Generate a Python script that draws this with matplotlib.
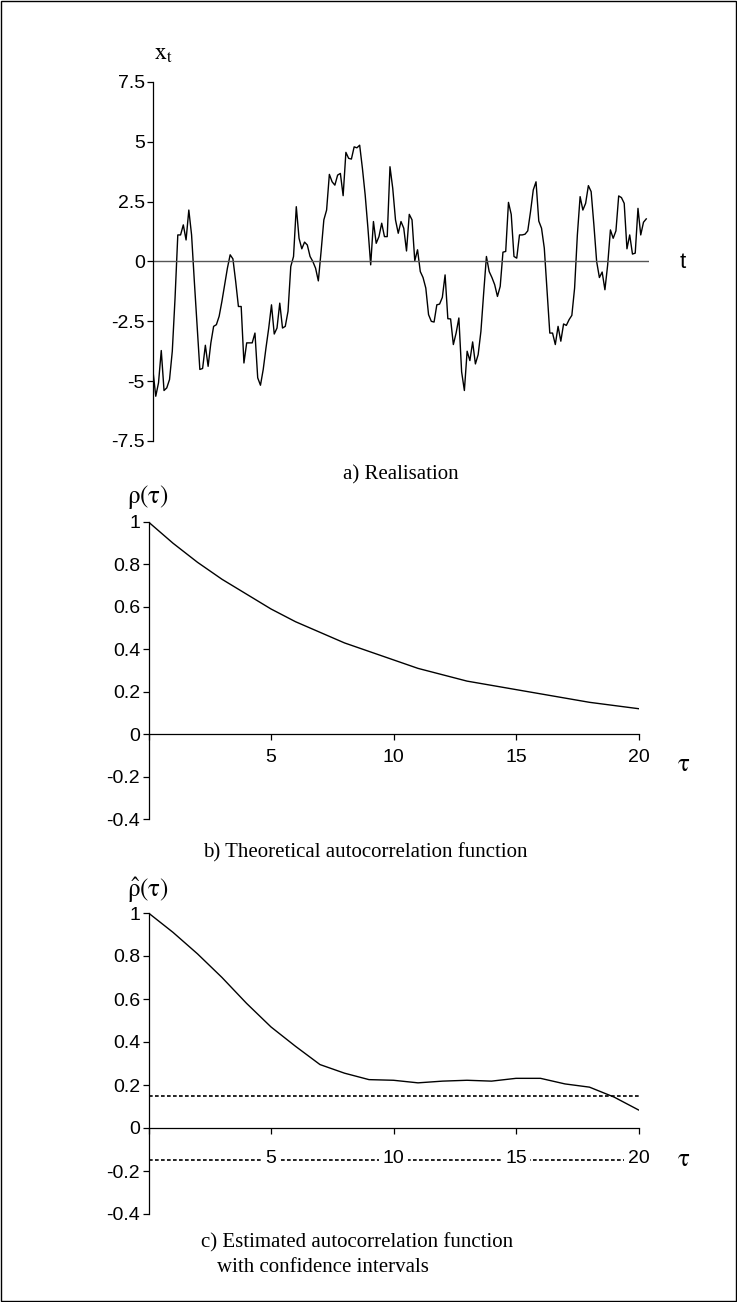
import matplotlib.pyplot as plt
import numpy as np

# a) realisation
serie = [
    -4.58, -5.63, -5.07, -3.72, -5.39, -5.28, -4.93, -3.75, -1.53, 1.11,
    1.11, 1.53, 0.90, 2.15, 1.11, -0.83, -2.64, -4.51, -4.47, -3.50,
    -4.38, -3.40, -2.71, -2.64, -2.29, -1.67, -0.97, -0.28, 0.28, 0.11,
    -0.83, -1.88, -1.88, -4.24, -3.40, -3.40,
    -3.40, -2.99, -4.86, -5.17, -4.51, -3.61, -2.78, -1.81, -3.03, -2.78,
    -1.74, -2.78, -2.71, -2.08, -0.21, 0.21, 2.29, 0.97, 0.53, 0.81,
    0.69, 0.21, 0.00, -0.28, -0.81, 0.42, 1.74, 2.15, 3.64, 3.33,
    3.19, 3.61, 3.68, 2.75, 4.56,
    4.31, 4.28, 4.79, 4.75, 4.86, 3.89, 2.78, 1.39, -0.14, 1.67,
    0.76, 1.04, 1.60, 1.04, 1.04, 3.96, 3.06, 1.74, 1.18, 1.67,
    1.39, 0.44, 1.97, 1.74, 0.03, 0.49, -0.42, -0.67, -1.11, -2.22,
    -2.50, -2.53, -1.81, -1.78, -1.50, -0.56,
    -2.39, -2.40, -3.47, -2.99, -2.36, -4.61, -5.39, -3.75, -4.14, -3.36,
    -4.28, -3.89, -2.92, -1.32, 0.21, -0.42, -0.67, -0.97, -1.46, -1.04,
    0.39, 0.42, 2.47, 1.97, 0.21, 0.14, 1.11, 1.11, 1.14, 1.28,
    2.08, 2.99, 3.33, 1.69, 1.39,
    0.56, -1.25, -2.99, -2.99, -3.47, -2.71, -3.33, -2.61, -2.67, -2.43,
    -2.25, -1.11, 1.11, 2.71, 2.15, 2.43, 3.17, 2.92, 1.53, 0.00,
    -0.67, -0.44, -1.18, -0.14, 1.32, 0.97, 1.28, 2.74, 2.67, 2.43,
    0.53, 1.11, 0.31, 0.35, 2.22, 1.11, 1.64, 1.78,
]
serie_yticks = [7.5, 5, 2.5, 0, -2.5, -5, -7.5]
serie_ylabels = ["7.5", "5", "2.5", "0", "-2.5", "-5", "-7.5"]

# b) and c) autocorrelation functions
lags = list(range(21))
acf_teorica = [1.0, 0.90, 0.81, 0.73, 0.66, 0.59, 0.53, 0.48, 0.43, 0.39, 0.35,
               0.31, 0.28, 0.25, 0.23, 0.21, 0.19, 0.17, 0.15, 0.135, 0.12]
acf_estimada = [1.0, 0.91, 0.81, 0.70, 0.58, 0.47, 0.38, 0.295, 0.255, 0.225, 0.222,
                0.21, 0.218, 0.222, 0.218, 0.231, 0.231, 0.205, 0.19, 0.144, 0.084]
limite_conf = 0.15

acf_yticks = [1, 0.8, 0.6, 0.4, 0.2, 0, -0.2, -0.4]
acf_ylabels = ["1", "0.8", "0.6", "0.4", "0.2", "0", "-0.2", "-0.4"]
lag_ticks = [0, 5, 10, 15, 20]
lag_labels = ["", "5", "10", "15", "20"]

W, H = 737, 1302
SANS = "Liberation Sans"
SERIF = ["Liberation Serif", "DejaVu Serif"]
plt.rcParams["mathtext.fontset"] = "stix"


def px(x, y):
    return x / W, 1 - y / H


def caja(left, top, right, bottom):
    return [left / W, 1 - bottom / H, (right - left) / W, (bottom - top) / H]


def ejes_acf(ax, valores, pad):
    ax.plot(lags, valores, color="black", lw=1.0, zorder=2)
    ax.set_xlim(0, 20)
    ax.set_ylim(-0.4, 1)
    ax.spines["top"].set_visible(False)
    ax.spines["right"].set_visible(False)
    ax.spines["bottom"].set_position(("data", 0))
    ax.spines["left"].set_linewidth(0.9)
    ax.spines["bottom"].set_linewidth(0.9)
    ax.set_xticks(lag_ticks)
    ax.set_xticklabels(lag_labels, fontfamily=SANS, fontsize=14)
    ax.set_yticks(acf_yticks)
    ax.set_yticklabels(acf_ylabels, fontfamily=SANS, fontsize=14)
    ax.tick_params(axis="x", direction="out", length=4, width=0.9, pad=pad)
    ax.tick_params(axis="y", direction="out", length=4, width=0.9, pad=2)
    ax.patch.set_alpha(0)


fig = plt.figure(figsize=(W / 100, H / 100), dpi=100)

# a) Realisation
ax1 = fig.add_axes(caja(153, 82, 649, 441))
t = np.arange(len(serie))
ax1.plot(t, serie, color="black", lw=1.0)
ax1.axhline(0, color="#555555", lw=1.0)
ax1.set_xlim(0, 180)
ax1.set_ylim(-7.5, 7.5)
for lado in ["top", "right", "bottom"]:
    ax1.spines[lado].set_visible(False)
ax1.spines["left"].set_linewidth(0.9)
ax1.set_xticks([])
ax1.set_yticks(serie_yticks)
ax1.set_yticklabels(serie_ylabels, fontfamily=SANS, fontsize=14)
ax1.tick_params(axis="y", direction="out", length=4, width=0.9, pad=2)
ax1.patch.set_alpha(0)

fig.text(*px(163, 53), r"$\mathrm{x_t}$", fontsize=17, ha="center", va="center")
fig.text(*px(683, 263), "t", fontfamily=SANS, fontsize=16, ha="center", va="center")
fig.text(*px(401, 475), "a) Realisation", fontfamily=SERIF, fontsize=15, ha="center", va="center")

# b) Theoretical autocorrelation function
ax2 = fig.add_axes(caja(148.5, 522, 638.5, 819))
ejes_acf(ax2, acf_teorica, 7)
fig.text(*px(127, 497), r"$\mathrm{\rho(\tau)}$", fontsize=18, ha="left", va="center")
fig.text(*px(684, 764), r"$\mathrm{\tau}$", fontsize=18, ha="center", va="center")
fig.text(*px(203, 853), "b) Theoretical autocorrelation function", fontfamily=SERIF,
         fontsize=15, ha="left", va="center")

# c) Estimated autocorrelation function with confidence intervals
ax3 = fig.add_axes(caja(148.5, 913, 638.5, 1214))
ax3.plot([0, 20], [limite_conf, limite_conf], color="black", lw=1.2,
         dashes=(2.2, 1.4), zorder=1)
ax3.plot([0, 20], [-limite_conf, -limite_conf], color="black", lw=1.2,
         dashes=(2.2, 1.4), zorder=1)
ejes_acf(ax3, acf_estimada, 12)
for etiqueta in ax3.get_xticklabels():
    etiqueta.set_bbox(dict(facecolor="white", edgecolor="none", pad=2.5))
fig.text(*px(127, 890), r"$\hat{\mathrm{\rho}}\mathrm{(\tau)}$", fontsize=18,
         ha="left", va="center")
fig.text(*px(684, 1159), r"$\mathrm{\tau}$", fontsize=18, ha="center", va="center")
fig.text(*px(201, 1243), "c) Estimated autocorrelation function", fontfamily=SERIF,
         fontsize=15, ha="left", va="center")
fig.text(*px(217, 1267), "with confidence intervals", fontfamily=SERIF,
         fontsize=15, ha="left", va="center")

# marco exterior
fig.patches.append(plt.Rectangle((0.0015, 0.001), 0.997, 0.998, transform=fig.transFigure,
                                 fill=False, edgecolor="black", lw=1.0))

fig.savefig("out.png", dpi=100)
